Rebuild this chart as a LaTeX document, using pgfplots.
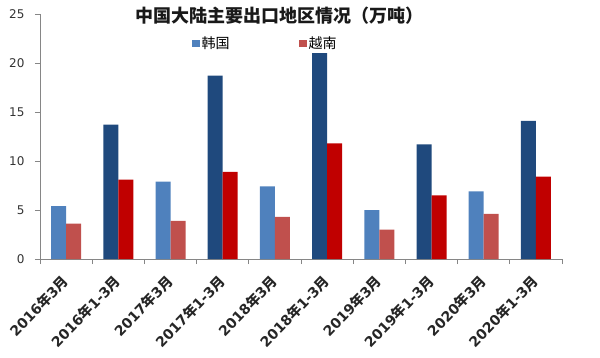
\documentclass[border=0pt]{standalone}
\usepackage{pgfplots}
\pgfplotsset{compat=1.18}
\usepackage{fontspec}
\setmainfont{DejaVu Sans}
\newfontfamily\cjk{Noto Sans CJK SC}
\definecolor{lb}{HTML}{4F81BD}
\definecolor{lr}{HTML}{C0504D}
\definecolor{db}{HTML}{1F497D}
\definecolor{dr}{HTML}{C00000}
\definecolor{axgray}{HTML}{868686}
\newcommand{\lab}[2]{#1{\cjk 年}#2{\cjk 月}}
\begin{document}
\begin{tikzpicture}
\useasboundingbox (0,0) rectangle (600pt,357pt);
\begin{axis}[
  at={(40pt,98pt)}, anchor=south west,
  scale only axis, width=522pt, height=245pt,
  xmin=-0.5, xmax=9.5, ymin=0, ymax=25,
  ytick={0,5,...,25},
  xtick={0,...,9},
  xticklabels={\lab{2016}{3},\lab{2016}{1-3},\lab{2017}{3},\lab{2017}{1-3},\lab{2018}{3},\lab{2018}{1-3},\lab{2019}{3},\lab{2019}{1-3},\lab{2020}{3},\lab{2020}{1-3}},
  minor xtick={-0.5,0.5,...,9.5},
  tick align=outside,
  major tick length=5pt, minor tick length=5pt,
  major x tick style={draw=none},
  every tick/.append style={axgray, line width=0.9pt},
  axis x line*=bottom, axis y line*=left,
  axis line style={draw=axgray, line width=0.9pt},
  /pgf/number format/assume math mode=true,
  yticklabel style={font=\fontsize{12}{14}\selectfont, text=black!80, xshift=-7pt},
  xticklabel style={xshift=1pt, yshift=-13pt, rotate=46, anchor=east, inner sep=2pt, font=\bfseries\fontsize{14}{16}\selectfont, text=black!85},
  legend columns=2,
  legend style={draw=none, fill=none, at={(0.29,0.915)}, anchor=north west,
    font=\cjk\fontsize{14}{16}\selectfont, inner sep=0pt,
    /tikz/every even column/.style={column sep=67pt}},
  legend image code/.code={\fill[#1] (0pt,-3.5pt) rectangle (8pt,3.5pt);},
]
\addplot[ybar, bar width=15pt, bar shift=-7.5pt, fill=lb, draw=none]
  coordinates {(0,5.4)(2,7.9)(4,7.4)(6,5.0)(8,6.9)};
\addplot[ybar, bar width=15pt, bar shift=7.5pt, fill=lr, draw=none]
  coordinates {(0,3.6)(2,3.9)(4,4.3)(6,3.0)(8,4.6)};
\addplot[ybar, bar width=15pt, bar shift=-7.5pt, fill=db, draw=none, forget plot]
  coordinates {(1,13.7)(3,18.7)(5,21.0)(7,11.7)(9,14.1)};
\addplot[ybar, bar width=15pt, bar shift=7.5pt, fill=dr, draw=none, forget plot]
  coordinates {(1,8.1)(3,8.9)(5,11.8)(7,6.5)(9,8.4)};
\legend{韩国,越南}
\end{axis}
\node[font=\cjk\bfseries\fontsize{18}{20}\selectfont, text=black!90] at (279pt,341pt) {中国大陆主要出口地区情况（万吨）};
\end{tikzpicture}
\end{document}
